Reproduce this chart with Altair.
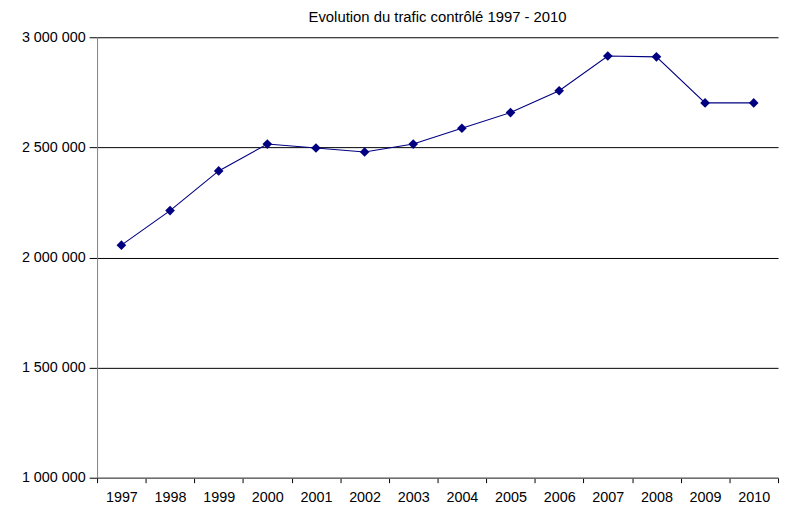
import altair as alt
import pandas as pd

years = ["1997", "1998", "1999", "2000", "2001", "2002", "2003",
         "2004", "2005", "2006", "2007", "2008", "2009", "2010"]
traffic = [2056000, 2213000, 2393000, 2515000, 2497000, 2479000, 2515000,
           2587000, 2658000, 2757000, 2915000, 2911000, 2702000, 2702000]

df = pd.DataFrame({"year": years, "traffic": traffic})

font = "Liberation Sans"

x = alt.X("year:O", title=None,
          scale=alt.Scale(type="band", paddingInner=0, paddingOuter=0),
          axis=alt.Axis(labelAngle=0, tickBand="extent", tickSize=5,
                        labelPadding=8, labelFontSize=14.5, labelFont=font,
                        labelColor="black", domainColor="#808080",
                        tickColor="#000000", grid=False))
y = alt.Y("traffic:Q", title=None,
          scale=alt.Scale(domain=[1000000, 3000000], nice=False, zero=False),
          axis=alt.Axis(values=[1000000, 1500000, 2000000, 2500000, 3000000],
                        labelExpr="replace(replace(format(datum.value, ','), ',', ' '), ',', ' ')",
                        tickSize=8, labelPadding=4, labelFontSize=14.5, labelFont=font,
                        labelColor="black", domainColor="#808080", tickColor="#000000",
                        grid=True, gridColor="#000000", gridWidth=1))

line = alt.Chart(df).mark_line(color="#000080", strokeWidth=1.1).encode(x=x, y=y)
pts = alt.Chart(df).mark_point(shape="diamond", filled=True, color="#000080",
                               size=95, opacity=1).encode(x=x, y=y)

chart = (line + pts).properties(
    width=688, height=445,
    title=alt.TitleParams("Evolution du trafic contrôlé 1997 - 2010",
                          font=font, fontSize=15, fontWeight="normal",
                          color="black", offset=4),
    padding={"left": 90, "top": 27, "right": 4, "bottom": 25},
    autosize=alt.AutoSizeParams(type="none"),
).configure_view(stroke=None)

chart.save("out.html", embed_options={"renderer": "svg", "actions": False})
